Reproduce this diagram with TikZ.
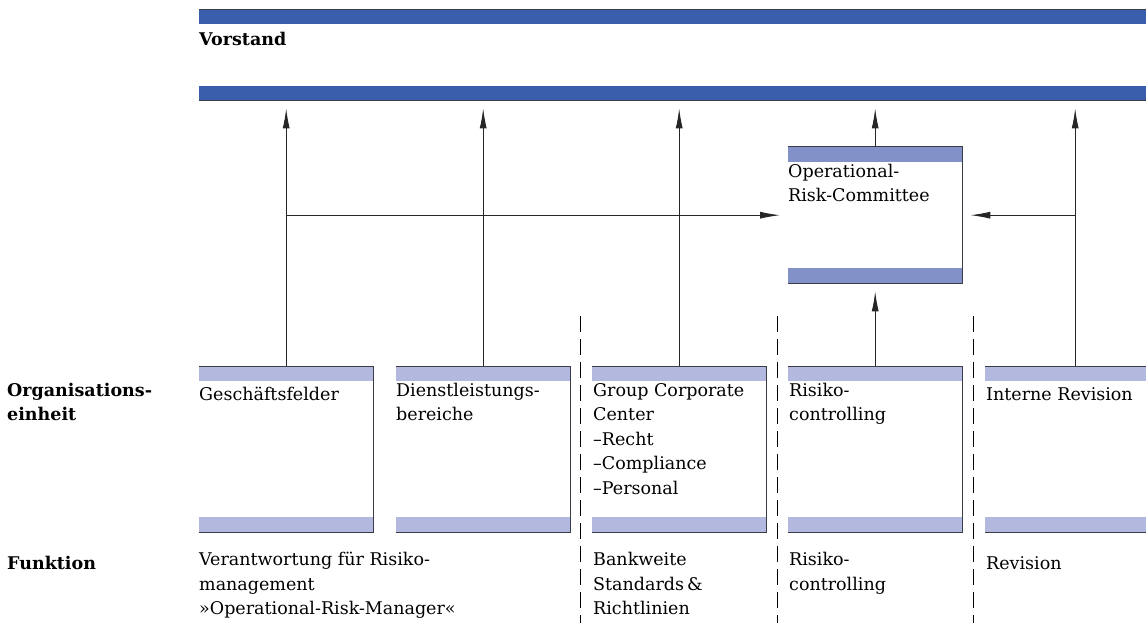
\documentclass[tikz,border=0pt]{standalone}
\usepackage{fontspec}
\setmainfont{DejaVu Serif}
\usepackage{tikz}
\usetikzlibrary{arrows.meta,positioning}
\definecolor{bardark}{HTML}{3A5EAB}
\definecolor{bandmid}{HTML}{8391C9}
\definecolor{bandlight}{HTML}{B3B9DE}
\definecolor{rimgray}{HTML}{3C3C46}

\tikzset{
  orgbox/.style={rectangle, anchor=north west, inner sep=0pt,
    minimum width=174pt, minimum height=166pt},
  txt/.style={anchor=north west, inner sep=0pt, align=left,
    font=\fontsize{17.5}{24.5}\selectfont\strut},
  head/.style={txt, font=\fontsize{17.5}{24.5}\selectfont\bfseries\strut},
  rim/.style={rimgray, line width=1pt},
  up/.style={black!85, line width=1pt, -{Latex[length=20pt,width=7pt]}, shorten >=8pt},
  sep/.style={black, line width=0.8pt, dash pattern=on 16pt off 7pt}
}

\begin{document}
\begin{tikzpicture}[x=1pt,y=-1pt]
  \useasboundingbox (0,0) rectangle (1146,623);

  % boxes
  \node[orgbox, minimum width=960pt, minimum height=90pt] (vst) at (199,10) {};
  \node[orgbox, minimum height=136pt] (orc) at (788,147) {};
  \node[orgbox] (gf)  at (199,366) {};
  \node[orgbox] (dl)  at (396,366) {};
  \node[orgbox] (gcc) at (592,366) {};
  \node[orgbox] (rc)  at (788,366) {};
  \node[orgbox, minimum width=180pt] (rev) at (985,366) {};

  \foreach \b/\c/\h in {vst/bardark/14pt, orc/bandmid/15pt, gf/bandlight/15pt,
      dl/bandlight/15pt, gcc/bandlight/15pt, rc/bandlight/15pt, rev/bandlight/15pt} {
    \fill[\c] (\b.north west) rectangle ([yshift=-\h]\b.north east);
    \fill[\c] ([yshift=\h]\b.south west) rectangle (\b.south east);
    \draw[rim] (\b.north west) -- (\b.north east) -- (\b.south east) -- (\b.south west);
  }

  % texts
  \node[head, anchor=base west] (vst-t) at (199,46) {Vorstand};
  \node[txt] (orc-t) at ([yshift=-17pt]orc.north west) {Operational-\\Risk-Committee};
  \node[txt] (gf-t)  at ([yshift=-17pt]gf.north west)  {Geschäftsfelder};
  \node[txt] (dl-t)  at ([yshift=-17pt]dl.north west)  {Dienstleistungs-\\bereiche};
  \node[txt] (gcc-t) at ([yshift=-17pt,xshift=1pt]gcc.north west) {Group Corporate\\Center\\–Recht\\–Compliance\\–Personal};
  \node[txt] (rc-t)  at ([yshift=-17pt,xshift=1pt]rc.north west)  {Risiko-\\controlling};
  \node[txt] (rev-t) at ([yshift=-17pt,xshift=1pt]rev.north west) {Interne Revision};

  \node[head] (org) at (7,383) {Organisations-\\einheit};
  \node[head] (fkt) at (7,552) {Funktion};
  \node[txt] (fkt-gf)  at (199,552) {Verantwortung für Risiko-\\management\\»Operational-Risk-Manager«};
  \node[txt] (fkt-gcc) at (593,552) {Bankweite\\Standards\,\&\\Richtlinien};
  \node[txt] (fkt-rc)  at (789,552) {Risiko-\\controlling};
  \node[txt] (fkt-rev) at (986,552) {Revision};

  % separators
  \foreach \x in {580.5,777,973.5}
    \draw[sep] (\x,316) -- (\x,623);

  % arrows
  \foreach \b in {gf,dl,gcc,rev}
    \draw[up] (\b.north) -- (\b.north |- vst.south);
  \draw[up] (orc.north) -- (orc.north |- vst.south);
  \draw[up] (rc.north) -- (orc.south);
  \coordinate (j1) at (gf.north |- orc.west);
  \coordinate (j2) at (rev.north |- orc.east);
  \draw[up] (j1) -- (orc.west);
  \draw[up] (j2) -- (orc.east);
\end{tikzpicture}
\end{document}
